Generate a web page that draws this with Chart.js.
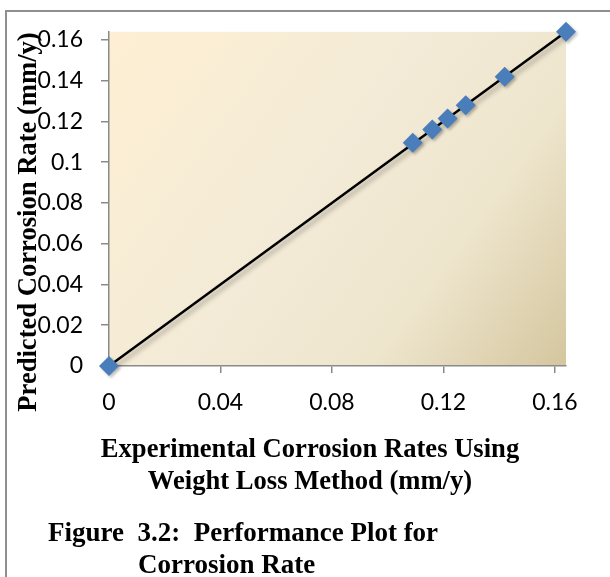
<!DOCTYPE html>
<html>
<head>
<meta charset="utf-8">
<script src="https://cdn.jsdelivr.net/npm/chart.js@4.4.0/dist/chart.umd.min.js"></script>
<style>
  html, body { margin: 0; padding: 0; background: #ffffff; }
  canvas { display: block; }
</style>
</head>
<body>
<canvas id="c" width="610" height="577"></canvas>
<script>
// ---- data ----
const experimentalRates = [0, 0.109, 0.116, 0.1215, 0.128, 0.142, 0.164];
const predictedRates    = [0, 0.1095, 0.116, 0.1215, 0.128, 0.142, 0.164];
const fitX = [0, 0.164];
const fitY = [0, 0.164];
const xTickValues = [0, 0.04, 0.08, 0.12, 0.16];
const yTickValues = [0, 0.02, 0.04, 0.06, 0.08, 0.1, 0.12, 0.14, 0.16];
const xTitleLines = ['Experimental Corrosion Rates Using', 'Weight Loss Method (mm/y)'];
const yTitle = 'Predicted Corrosion Rate (mm/y)';
const captionLines = ['Figure  3.2:  Performance Plot for', 'Corrosion Rate'];

const pointsData = experimentalRates.map((x, i) => ({ x: x, y: predictedRates[i] }));
const fitData = fitX.map((x, i) => ({ x: x, y: fitY[i] }));

const fmt = v => String(Number(v.toFixed(2)));

const bgPlugin = {
  id: 'bg',
  beforeDraw(chart) {
    const ctx = chart.ctx, a = chart.chartArea;
    ctx.save();
    // frame
    ctx.strokeStyle = '#8f8f8f';
    ctx.lineWidth = 2;
    ctx.beginPath();
    ctx.moveTo(6, 577);
    ctx.lineTo(6, 11);
    ctx.lineTo(612, 11);
    ctx.stroke();
    // plot area gradient
    const g = ctx.createLinearGradient(a.left, a.top, a.right, a.bottom);
    g.addColorStop(0, '#FEEFD3');
    g.addColorStop(0.45, '#F3EBD7');
    g.addColorStop(0.72, '#EEE5CD');
    g.addColorStop(1, '#D4C69E');
    ctx.fillStyle = g;
    ctx.fillRect(a.left, a.top, a.right - a.left, a.bottom - a.top);
    ctx.restore();
  },
  beforeDatasetDraw(chart, args) {
    const ctx = chart.ctx;
    ctx.save();
    if (args.index === 1) {
      ctx.shadowColor = 'rgba(0,0,0,0.35)';
      ctx.shadowBlur = 5;
      ctx.shadowOffsetX = 3;
      ctx.shadowOffsetY = 3;
    } else {
      ctx.shadowColor = 'rgba(0,0,0,0.25)';
      ctx.shadowBlur = 3;
      ctx.shadowOffsetX = 2;
      ctx.shadowOffsetY = 2;
    }
  },
  afterDatasetDraw(chart) {
    chart.ctx.restore();
  },
  afterDraw(chart) {
    const ctx = chart.ctx;
    ctx.save();
    ctx.fillStyle = '#000000';
    ctx.textBaseline = 'alphabetic';
    ctx.font = 'bold 26.6px "Liberation Serif", "Times New Roman", serif';
    ctx.textAlign = 'center';
    ctx.fillText(xTitleLines[0], 310, 457);
    ctx.fillText(xTitleLines[1], 310, 489);
    // y title
    ctx.save();
    ctx.translate(36, 222);
    ctx.rotate(-Math.PI / 2);
    ctx.fillText(yTitle, 0, 0);
    ctx.restore();
    // caption
    ctx.font = 'bold 27px "Liberation Serif", "Times New Roman", serif';
    ctx.textAlign = 'left';
    ctx.fillText(captionLines[0], 48, 541);
    ctx.fillText(captionLines[1], 138, 573);
    ctx.restore();
  }
};

new Chart(document.getElementById('c'), {
  type: 'scatter',
  data: {
    datasets: [
      {
        data: pointsData,
        pointStyle: 'rectRot',
        pointRadius: 10,
        pointHoverRadius: 10,
        backgroundColor: '#4A7EBB',
        borderColor: '#4A7EBB',
        borderWidth: 0,
        showLine: false,
        clip: false
      },
      {
        data: fitData,
        showLine: true,
        borderColor: '#000000',
        borderWidth: 2.5,
        pointRadius: 0,
        pointHoverRadius: 0,
        fill: false,
        clip: false
      }
    ]
  },
  options: {
    responsive: false,
    animation: false,
    events: [],
    layout: { padding: { top: 27, right: 44, left: 0, bottom: 0 } },
    plugins: {
      legend: { display: false },
      tooltip: { enabled: false },
      title: { display: false }
    },
    scales: {
      x: {
        type: 'linear',
        min: 0,
        max: 0.164,
        afterBuildTicks: s => { s.ticks = xTickValues.map(v => ({ value: v })); },
        afterFit: s => { s.height = 211; },
        ticks: {
          callback: v => fmt(v),
          color: '#000000',
          padding: 16,
          maxRotation: 0,
          autoSkip: false,
          font: { family: 'Lato, "Open Sans", sans-serif', size: 23 }
        },
        grid: {
          display: true,
          drawOnChartArea: false,
          drawTicks: true,
          tickLength: 7,
          color: '#8a8a8a',
          lineWidth: 1.5
        },
        border: { display: true, color: '#8a8a8a', width: 1.5 },
        title: { display: false }
      },
      y: {
        type: 'linear',
        min: 0,
        max: 0.164,
        afterBuildTicks: s => { s.ticks = yTickValues.map(v => ({ value: v })); },
        afterFit: s => { s.width = 109; },
        ticks: {
          callback: v => fmt(v),
          color: '#000000',
          padding: 18,
          autoSkip: false,
          font: { family: 'Lato, "Open Sans", sans-serif', size: 23 }
        },
        grid: {
          display: true,
          drawOnChartArea: false,
          drawTicks: true,
          tickLength: 8,
          color: '#8a8a8a',
          lineWidth: 1.5
        },
        border: { display: true, color: '#8a8a8a', width: 1.5 },
        title: { display: false }
      }
    }
  },
  plugins: [bgPlugin]
});
</script>
</body>
</html>
